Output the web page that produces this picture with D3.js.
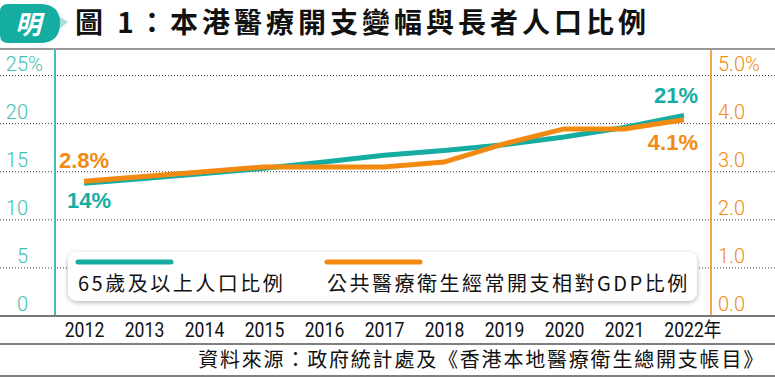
<!DOCTYPE html>
<html>
<head>
<meta charset="utf-8">
<script src="https://cdn.jsdelivr.net/npm/d3@7"></script>
<style>
  body { margin: 0; background: #fff; }
  svg { display: block; }
</style>
</head>
<body>
<div id="chart"></div>
<script>
// data
const years = [2012, 2013, 2014, 2015, 2016, 2017, 2018, 2019, 2020, 2021, 2022];
const elderlyShare = [13.8, 14.3, 14.8, 15.35, 16.0, 16.7, 17.2, 17.8, 18.6, 19.6, 20.85];
const healthGdp = [2.8, 2.9, 3.0, 3.1, 3.1, 3.1, 3.2, 3.58, 3.89, 3.89, 4.08];
const leftTicks = [0, 5, 10, 15, 20, 25];
const rightTicks = [0, 1, 2, 3, 4, 5];

const teal = "#15ada2";
const tealLight = "#3fc0b6";
const orange = "#f28a12";

const width = 775, height = 377;
const plotTop = 75.5, plotBottom = 316;
const axisLeftX = 55, axisRightX = 711;

const svg = d3.select("#chart").append("svg")
    .attr("width", width)
    .attr("height", height);

const defs = svg.append("defs");
const shadow = defs.append("filter").attr("id", "shadow")
    .attr("x", "-5%").attr("y", "-20%").attr("width", "110%").attr("height", "150%");
shadow.append("feDropShadow")
    .attr("dx", 0).attr("dy", 1.5).attr("stdDeviation", 2.5)
    .attr("flood-color", "#000").attr("flood-opacity", 0.3);

// Scales
const x = d3.scaleLinear().domain([2012, 2022]).range([84, 684]);
const yL = d3.scaleLinear().domain([0, 25]).range([plotBottom, plotTop]);
const yR = d3.scaleLinear().domain([0, 5]).range([plotBottom, plotTop]);

// Logo bubble
const logo = svg.append("g");
logo.append("path")
    .attr("d", "M50,10 L68,22 L50,36 Z")
    .attr("fill", "#a6e0da");
logo.append("path")
    .attr("d", "M8,4 L40,4 Q60,4 60,23 Q60,43 40,43 L8,43 Q0,43 0,35 L0,12 Q0,4 8,4 Z")
    .attr("fill", teal);
logo.append("text")
    .attr("x", 28).attr("y", 34)
    .attr("text-anchor", "middle")
    .attr("fill", "#fff")
    .style("font-family", "'Noto Sans CJK TC'")
    .style("font-size", "26px")
    .style("font-style", "italic")
    .style("font-weight", 700)
    .text("明");

// Title
svg.append("text")
    .attr("x", 75).attr("y", 33)
    .attr("fill", "#111")
    .style("font-family", "'Noto Sans CJK TC', sans-serif")
    .style("font-weight", 700)
    .style("font-size", "28px")
    .style("letter-spacing", "4px")
    .text("圖 1：本港醫療開支變幅與長者人口比例");

// Frame lines
svg.append("line").attr("x1", 0).attr("x2", width).attr("y1", 49).attr("y2", 49)
    .attr("stroke", "#999").attr("stroke-width", 2);

// Gridlines
svg.append("g")
    .selectAll("line")
    .data(leftTicks.filter(d => d > 0))
    .join("line")
    .attr("x1", 0).attr("x2", width)
    .attr("y1", d => yL(d)).attr("y2", d => yL(d))
    .attr("stroke", "#444")
    .attr("stroke-width", 1)
    .attr("stroke-dasharray", "1,2");

// Vertical axes
svg.append("line").attr("x1", axisLeftX).attr("x2", axisLeftX).attr("y1", 50).attr("y2", plotBottom)
    .attr("stroke", tealLight).attr("stroke-width", 2);
svg.append("line").attr("x1", axisRightX).attr("x2", axisRightX).attr("y1", 50).attr("y2", plotBottom)
    .attr("stroke", orange).attr("stroke-width", 1.5);

// Left tick labels
const tickFont = "Roboto, 'Liberation Sans', sans-serif";
svg.append("g")
    .selectAll("text")
    .data(leftTicks)
    .join("text")
    .attr("x", 28)
    .attr("y", d => yL(d) - 5)
    .attr("text-anchor", "end")
    .attr("fill", tealLight)
    .style("font-family", tickFont)
    .style("font-weight", 300)
    .style("font-size", "20px")
    .text(d => d);
svg.append("text")
    .attr("x", 28).attr("y", yL(25) - 5)
    .attr("fill", tealLight)
    .style("font-family", tickFont)
    .style("font-weight", 300)
    .style("font-size", "20px")
    .text("%");

// Right tick labels
svg.append("g")
    .selectAll("text")
    .data(rightTicks)
    .join("text")
    .attr("x", 718)
    .attr("y", d => yR(d) - 5)
    .attr("fill", orange)
    .style("font-family", tickFont)
    .style("font-weight", 300)
    .style("font-size", "20px")
    .text(d => d3.format(".1f")(d) + (d === 5 ? "%" : ""));

// Lines
const tealLine = d3.line()
    .x((d, i) => x(years[i]))
    .y(d => yL(d));
const orangeLine = d3.line()
    .x((d, i) => x(years[i]))
    .y(d => yR(d));

svg.append("path")
    .datum(elderlyShare)
    .attr("d", tealLine)
    .attr("fill", "none")
    .attr("stroke", teal)
    .attr("stroke-width", 5);

svg.append("path")
    .datum(healthGdp)
    .attr("d", orangeLine)
    .attr("fill", "none")
    .attr("stroke", orange)
    .attr("stroke-width", 5);

// Value labels
const valFont = "'Liberation Sans', Arial, sans-serif";
const labels = [
    { text: "2.8%", x: 59, y: 168, anchor: "start", color: orange },
    { text: "14%", x: 67, y: 208, anchor: "start", color: teal },
    { text: "21%", x: 698, y: 103, anchor: "end", color: teal },
    { text: "4.1%", x: 698, y: 150, anchor: "end", color: orange }
];
svg.append("g")
    .selectAll("text")
    .data(labels)
    .join("text")
    .attr("x", d => d.x).attr("y", d => d.y)
    .attr("text-anchor", d => d.anchor)
    .attr("fill", d => d.color)
    .style("font-family", valFont)
    .style("font-weight", 700)
    .style("font-size", "22px")
    .text(d => d.text);

// Legend
const legend = svg.append("g");
legend.append("rect")
    .attr("x", 68).attr("y", 252)
    .attr("width", 629).attr("height", 49)
    .attr("rx", 9)
    .attr("fill", "#fff")
    .attr("filter", "url(#shadow)");

const legendItems = [
    { label: "65歲及以上人口比例", color: teal, x: 78 },
    { label: "公共醫療衛生經常開支相對GDP比例", color: orange, x: 327 }
];
legendItems.forEach(d => {
    legend.append("line")
        .attr("x1", d.x).attr("x2", d.x + 93)
        .attr("y1", 262).attr("y2", 262)
        .attr("stroke", d.color)
        .attr("stroke-width", 5)
        .attr("stroke-linecap", "round");
    legend.append("text")
        .attr("x", d.x).attr("y", 291)
        .attr("fill", "#111")
        .style("font-family", "'Noto Sans CJK TC', sans-serif")
        .style("font-size", "20px")
        .style("letter-spacing", "2.5px")
        .text(d.label);
});

// X axis
svg.append("line").attr("x1", 0).attr("x2", width).attr("y1", plotBottom).attr("y2", plotBottom)
    .attr("stroke", "#777").attr("stroke-width", 2);

const xAxis = svg.append("g")
    .attr("transform", `translate(0,${plotBottom})`)
    .call(d3.axisBottom(x)
        .tickValues(years)
        .tickSize(0)
        .tickPadding(7)
        .tickFormat(d => d === 2022 ? "2022年" : d3.format("d")(d)));
xAxis.select(".domain").remove();
xAxis.selectAll("text")
    .attr("fill", "#111")
    .attr("transform", "scale(0.88,1)")
    .style("font-family", "Roboto, 'Noto Sans CJK TC', sans-serif")
    .style("font-weight", 400)
    .style("font-size", "20px");
xAxis.selectAll(".tick")
    .filter(d => d === 2022)
    .select("text")
    .attr("text-anchor", "start")
    .attr("x", -23);

svg.append("line").attr("x1", 0).attr("x2", width).attr("y1", 344).attr("y2", 344)
    .attr("stroke", "#555").attr("stroke-width", 1.5);

// Source
svg.append("text")
    .attr("x", 765).attr("y", 367)
    .attr("text-anchor", "end")
    .attr("fill", "#111")
    .style("font-family", "'Noto Sans CJK TC', sans-serif")
    .style("font-size", "20px")
    .style("letter-spacing", "1.8px")
    .text("資料來源：政府統計處及《香港本地醫療衛生總開支帳目》");

svg.append("line").attr("x1", 0).attr("x2", width).attr("y1", 376).attr("y2", 376)
    .attr("stroke", "#555").attr("stroke-width", 1.5);
</script>
</body>
</html>
